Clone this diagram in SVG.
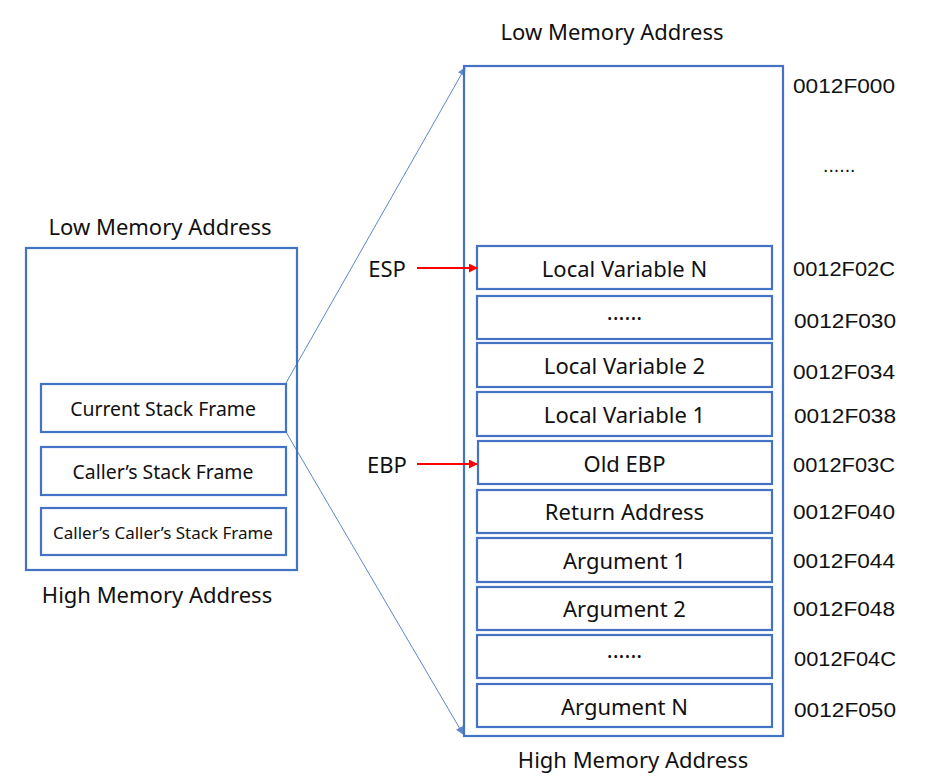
<svg xmlns="http://www.w3.org/2000/svg" width="933" height="781" viewBox="0 0 933 781">
<defs>
<style>
.box{fill:none;stroke:#4472C4;stroke-width:2.2}
.t{font-family:"Noto Sans","Open Sans",sans-serif;font-size:22px;fill:#111;text-anchor:middle}
.a{font-family:"Liberation Sans",Arial,sans-serif;font-size:19.5px;fill:#111}
.conn{stroke:#4472C4;stroke-width:1;fill:none;opacity:0.85}
.red{stroke:#FF0000;stroke-width:2;fill:none}
</style>
<marker id="ab" viewBox="0 0 10 10" refX="9" refY="5" markerWidth="8" markerHeight="8" markerUnits="userSpaceOnUse" orient="auto">
<path d="M0,0 L10,5 L0,10 Z" fill="#4472C4"/>
</marker>
<marker id="ar" viewBox="0 0 10 10" refX="9" refY="5" markerWidth="9" markerHeight="9" markerUnits="userSpaceOnUse" orient="auto">
<path d="M0,0 L10,5 L0,10 Z" fill="#FF0000"/>
</marker>
</defs>
<rect width="933" height="781" fill="#fff"/>

<g id="left-stack">
<rect class="box" x="26" y="248" width="271" height="322"/>
<text class="t" x="160" y="235">Low Memory Address</text>
<text class="t" x="157" y="603">High Memory Address</text>
</g>
<g id="current-frame">
<rect class="box" x="41" y="384" width="245" height="48"/>
<text class="t" x="163" y="416" style="font-size:19.4px">Current Stack Frame</text>
</g>
<g id="caller-frame">
<rect class="box" x="41" y="447" width="245" height="48"/>
<text class="t" x="163" y="479" style="font-size:19.4px">Caller’s Stack Frame</text>
</g>
<g id="caller-caller-frame">
<rect class="box" x="41" y="508" width="245" height="47"/>
<text class="t" x="163" y="539" style="font-size:17px">Caller’s Caller’s Stack Frame</text>
</g>

<g id="right-stack">
<rect class="box" x="464" y="66" width="319" height="670"/>
<text class="t" x="612" y="40">Low Memory Address</text>
<text class="t" x="633" y="768">High Memory Address</text>
</g>
<g id="local-n"><rect class="box" x="477" y="246" width="295" height="43"/><text class="t" x="624.5" y="276.5">Local Variable N</text></g>
<g id="dots-1"><rect class="box" x="477" y="296" width="295" height="43"/><text class="t" x="624.5" y="320">......</text></g>
<g id="local-2"><rect class="box" x="477" y="343" width="295" height="44"/><text class="t" x="624.5" y="374">Local Variable 2</text></g>
<g id="local-1"><rect class="box" x="477" y="392" width="295" height="44"/><text class="t" x="624.5" y="422.5">Local Variable 1</text></g>
<g id="old-ebp"><rect class="box" x="478" y="441" width="294" height="43"/><text class="t" x="624.5" y="471.5">Old EBP</text></g>
<g id="return-address"><rect class="box" x="477" y="490" width="295" height="43"/><text class="t" x="624.5" y="520">Return Address</text></g>
<g id="arg-1"><rect class="box" x="477" y="538" width="295" height="44"/><text class="t" x="624.5" y="568.5">Argument 1</text></g>
<g id="arg-2"><rect class="box" x="477" y="587" width="295" height="43"/><text class="t" x="624.5" y="617">Argument 2</text></g>
<g id="dots-2"><rect class="box" x="477" y="635" width="295" height="43"/><text class="t" x="624.5" y="658">......</text></g>
<g id="arg-n"><rect class="box" x="477" y="684" width="295" height="43"/><text class="t" x="624.5" y="714.5">Argument N</text></g>

<g id="addresses">
<text class="a" x="793" y="92.5" textLength="102" lengthAdjust="spacingAndGlyphs">0012F000</text>
<text class="a" x="823" y="172">......</text>
<text class="a" x="793" y="275.5" textLength="102" lengthAdjust="spacingAndGlyphs">0012F02C</text>
<text class="a" x="794" y="327.5" textLength="102" lengthAdjust="spacingAndGlyphs">0012F030</text>
<text class="a" x="793" y="378.5" textLength="102" lengthAdjust="spacingAndGlyphs">0012F034</text>
<text class="a" x="794" y="422.5" textLength="102" lengthAdjust="spacingAndGlyphs">0012F038</text>
<text class="a" x="793" y="471.5" textLength="102" lengthAdjust="spacingAndGlyphs">0012F03C</text>
<text class="a" x="793" y="518.5" textLength="102" lengthAdjust="spacingAndGlyphs">0012F040</text>
<text class="a" x="793" y="567.5" textLength="102" lengthAdjust="spacingAndGlyphs">0012F044</text>
<text class="a" x="793" y="615.5" textLength="102" lengthAdjust="spacingAndGlyphs">0012F048</text>
<text class="a" x="794" y="665.5" textLength="102" lengthAdjust="spacingAndGlyphs">0012F04C</text>
<text class="a" x="794" y="716.5" textLength="102" lengthAdjust="spacingAndGlyphs">0012F050</text>
</g>

<g id="pointer-labels">
<text class="t" x="387" y="277">ESP</text>
<text class="t" x="387" y="473">EBP</text>
</g>

<g id="connectors">
<line class="conn" x1="286" y1="383" x2="465" y2="68" marker-end="url(#ab)"/>
<line class="conn" x1="286" y1="432" x2="463" y2="734" marker-end="url(#ab)"/>
<line class="red" x1="417" y1="268" x2="477" y2="268" marker-end="url(#ar)"/>
<line class="red" x1="417" y1="464" x2="477" y2="464" marker-end="url(#ar)"/>
</g>
</svg>
